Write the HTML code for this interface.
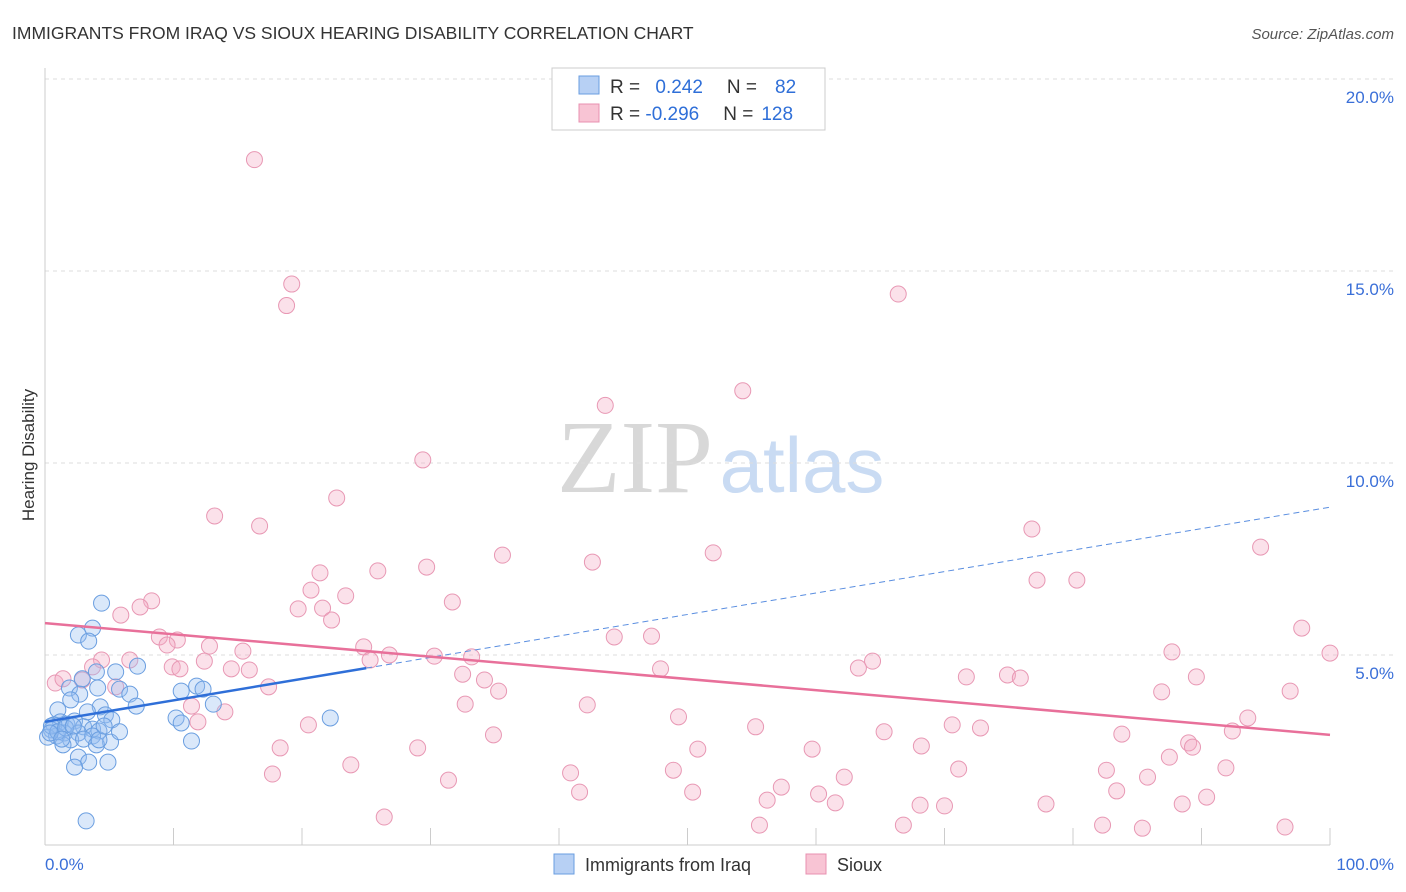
<!DOCTYPE html>
<html><head><meta charset="utf-8"><style>
body{margin:0;background:#fff;font-family:"Liberation Sans",sans-serif;}
svg{display:block}
</style></head><body>
<svg id="chart" width="1406" height="892">
<text x="12" y="39" font-size="17.5" fill="#333">IMMIGRANTS FROM IRAQ VS SIOUX HEARING DISABILITY CORRELATION CHART</text>
<text x="1394" y="39" font-size="15" fill="#555" font-style="italic" text-anchor="end">Source: ZipAtlas.com</text>
<g>
<text x="635" y="492" font-size="104" fill="#d8d8d8" font-family="Liberation Serif,serif" text-anchor="middle">ZIP</text>
<text x="802" y="492" font-size="78" fill="#c9dbf3" text-anchor="middle">atlas</text>
</g>
<g id="grid"></g><g id="ticks"></g>
<line x1="45" y1="68" x2="45" y2="845" stroke="#ccc"/>
<line x1="45" y1="845" x2="1330" y2="845" stroke="#ccc"/>
<text x="34" y="455" font-size="17" fill="#333" text-anchor="middle" transform="rotate(-90 34 455)">Hearing Disability</text>
<text x="45" y="870" font-size="17" fill="#3a6fd8">0.0%</text>
<text x="1394" y="870" font-size="17" fill="#3a6fd8" text-anchor="end">100.0%</text>
<g id="pts"></g><g id="lines"></g>
<g>
<rect x="552" y="68" width="273" height="62" fill="#fff" stroke="#ccc"/>
<rect x="579" y="76" width="20" height="18" fill="#b7d0f4" stroke="#6a9ee0"/>
<rect x="579" y="104" width="20" height="18" fill="#f8c4d4" stroke="#e890b0"/>
<text x="610" y="93" font-size="19" fill="#333">R = <tspan fill="#2f6fd8" dx="10">0.242</tspan><tspan dx="24" fill="#333">N =</tspan><tspan dx="18" fill="#2f6fd8">82</tspan></text>
<text x="610" y="120" font-size="19" fill="#333">R = <tspan fill="#2f6fd8">-0.296</tspan><tspan dx="24" fill="#333">N =</tspan><tspan dx="8" fill="#2f6fd8">128</tspan></text>
</g>
<g>
<rect x="554" y="854" width="20" height="20" fill="#b7d0f4" stroke="#6a9ee0"/>
<text x="585" y="871" font-size="18" fill="#333">Immigrants from Iraq</text>
<rect x="806" y="854" width="20" height="20" fill="#f8c4d4" stroke="#e890b0"/>
<text x="837" y="871" font-size="18" fill="#333">Sioux</text>
</g>
</svg>
<script>
const yTicks=[5,10,15,20];
const yTickLabels=["5.0%","10.0%","15.0%","20.0%"];
const xTickVals=[0,10,20,30,40,50,60,70,80,90,100];
const iraqX=[4.4,3.7,2.6,3.4,7.2,4.0,5.5,2.9,1.9,4.1,5.8,11.8,12.3,10.6,2.7,6.6,2.0,7.1,4.3,13.1,1.0,3.3,4.7,10.2,22.2,5.2,10.6,1.2,1.7,2.3,0.7,3.0,3.7,4.2,0.5,1.5,2.6,0.9,3.7,0.2,2.0,3.0,5.1,11.4,1.4,4.0,2.6,3.4,4.9,2.3,3.2,0.5,1.0,1.6,2.2,0.4,1.3,4.2,4.6,5.8];
const iraqY=[6.35,5.7,5.52,5.36,4.71,4.56,4.56,4.38,4.14,4.14,4.11,4.19,4.11,4.06,3.98,3.98,3.83,3.67,3.65,3.72,3.57,3.52,3.44,3.36,3.36,3.31,3.23,3.26,3.2,3.28,3.18,3.13,3.07,3.02,3.05,2.97,2.97,2.89,2.89,2.86,2.79,2.81,2.73,2.76,2.66,2.66,2.34,2.21,2.21,2.08,0.68,3.15,3.0,3.1,3.15,2.97,2.81,2.79,3.15,3.0];
const siouxX=[16.3,19.2,18.8,66.4,54.3,43.6,29.4,22.7,13.2,16.7,76.8,94.6,35.6,52,42.6,29.7,25.9,21.4,77.2,80.3,20.7,23.4,8.3,31.7,7.4,19.7,21.6,5.9,22.3,97.8,8.9,44.3,47.2,10.3,9.5,12.8,24.8,15.4,87.7,100,26.8,25.3,30.3,33.2,4.4,6.6,64.4,12.4,3.7,9.9,10.5,63.3,14.5,15.9,47.9,74.9,75.9,32.5,71.7,89.6,0.8,1.4,2.9,34.2,5.5,17.4,35.3,86.9,96.9,32.7,42.2,11.4,14,93.6,49.3,11.9,20.5,70.6,55.3,72.8,92.4,65.3,34.9,83.8,89,89.3,68.2,18.3,29,50.8,59.7,87.5,23.8,71.1,82.6,91.9,48.9,40.9,17.7,62.2,85.8,31.4,57.3,83.4,41.6,50.4,60.2,56.2,90.4,61.5,68.1,70,77.9,88.5,26.4,55.6,66.8,82.3,85.4,96.5];
const siouxY=[17.9,14.66,14.1,14.4,11.88,11.5,10.08,9.09,8.62,8.36,8.28,7.81,7.6,7.66,7.42,7.29,7.19,7.14,6.95,6.95,6.69,6.54,6.41,6.38,6.25,6.2,6.22,6.04,5.91,5.7,5.47,5.47,5.49,5.39,5.26,5.23,5.21,5.1,5.08,5.05,5.0,4.87,4.97,4.95,4.87,4.87,4.84,4.84,4.69,4.69,4.64,4.66,4.64,4.61,4.64,4.48,4.4,4.5,4.43,4.43,4.27,4.38,4.35,4.35,4.17,4.17,4.06,4.04,4.06,3.72,3.7,3.67,3.52,3.36,3.39,3.26,3.18,3.18,3.13,3.1,3.02,3.0,2.92,2.94,2.71,2.6,2.63,2.58,2.58,2.55,2.55,2.34,2.14,2.03,2.0,2.06,2.0,1.93,1.9,1.82,1.82,1.74,1.56,1.46,1.43,1.43,1.38,1.22,1.3,1.15,1.09,1.07,1.12,1.12,0.78,0.57,0.57,0.57,0.49,0.52];
const iraqTrend=[3.26,8.85];
const siouxTrend=[5.83,2.92];
const iraqSolidEnd=25;

const NS="http://www.w3.org/2000/svg";
const X=v=>45+v*12.85;
const Y=v=>847-v*38.4;
function mk(tag,attrs,parent){const e=document.createElementNS(NS,tag);for(const k in attrs)e.setAttribute(k,attrs[k]);parent.appendChild(e);return e;}
const grid=document.getElementById('grid'),ticks=document.getElementById('ticks'),pts=document.getElementById('pts'),lines=document.getElementById('lines');
yTicks.forEach((t,i)=>{
 const l=mk('line',{x1:45,x2:1394,y1:Y(t),y2:Y(t),stroke:'#ddd','stroke-dasharray':'4,4'},grid);
 
 
 const tx=mk('text',{x:1394,y:Y(t)+24,'font-size':17,fill:'#3a6fd8','text-anchor':'end'},ticks);
 tx.textContent=yTickLabels[i];
 
 
});
xTickVals.forEach(v=>{
 const l=mk('line',{x1:X(v),x2:X(v),y1:828,y2:845,stroke:'#ccc'},ticks);
 
 
});
siouxX.forEach((x,i)=>{
 const c=mk('circle',{cx:X(x),cy:Y(siouxY[i]),r:8,fill:'rgba(244,170,196,0.35)',stroke:'#e898b4','stroke-width':1},pts);
 
 
});
iraqX.forEach((x,i)=>{
 const c=mk('circle',{cx:X(x),cy:Y(iraqY[i]),r:8,fill:'rgba(150,190,240,0.35)',stroke:'#6a9ee0','stroke-width':1},pts);
 
 
});
const ib=v=>iraqTrend[0]+(iraqTrend[1]-iraqTrend[0])*v/100;
let l1=mk('line',{x1:X(0),y1:Y(ib(0)),x2:X(iraqSolidEnd),y2:Y(ib(iraqSolidEnd)),stroke:'#2f6fd8','stroke-width':2.5},lines);


let l2=mk('line',{x1:X(iraqSolidEnd),y1:Y(ib(iraqSolidEnd)),x2:X(100),y2:Y(ib(100)),stroke:'#5a8ee0','stroke-width':1,'stroke-dasharray':'6,4'},lines);


let l3=mk('line',{x1:X(0),y1:Y(siouxTrend[0]),x2:X(100),y2:Y(siouxTrend[1]),stroke:'#e8709a','stroke-width':2.5},lines);


</script>
</body></html>
